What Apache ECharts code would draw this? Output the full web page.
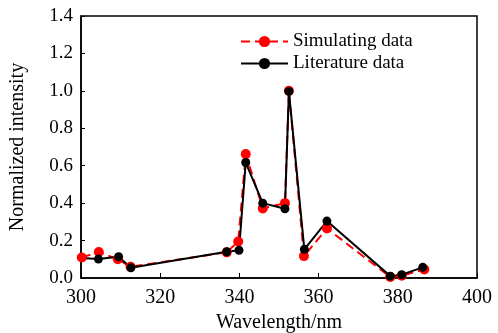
<!DOCTYPE html>
<html>
<head>
<meta charset="utf-8">
<script src="https://cdn.jsdelivr.net/npm/echarts@6/dist/echarts.min.js"></script>
<style>
  html, body { margin: 0; padding: 0; background: #fff; }
  #chart { width: 498px; height: 333px; }
</style>
</head>
<body>
<div id="chart"></div>
<script>
// wavelength (nm) and normalized intensity
const simWavelength = [300.2, 304.5, 309.3, 312.5, 336.8, 339.7, 341.6, 345.9, 351.5, 352.5, 356.3, 362.1, 378.1, 381.0, 386.7];
const simIntensity = [0.11, 0.139, 0.10, 0.06, 0.137, 0.195, 0.662, 0.372, 0.40, 1.0, 0.117, 0.265, 0.005, 0.012, 0.046];
const litWavelength = [300, 304.4, 309.5, 312.6, 336.8, 339.9, 341.6, 345.9, 351.5, 352.5, 356.4, 362.1, 378.1, 381.0, 386.3];
const litIntensity = [0.107, 0.101, 0.114, 0.055, 0.14, 0.148, 0.617, 0.40, 0.37, 0.997, 0.153, 0.304, 0.01, 0.018, 0.057];
const seriesNames = ["Simulating data", "Literature data"];

const font = "Liberation Serif";

const toPairs = (xs, ys) => xs.map((x, i) => [x, ys[i]]);

const litData = toPairs(litWavelength, litIntensity).map((p, i) =>
    i === 0 ? { value: p, symbol: "none" } : p
);

const chart = echarts.init(document.getElementById("chart"));
const option = {
    animation: false,
    backgroundColor: "#fff",
    textStyle: { fontFamily: font, color: "#000" },
    grid: {
        left: 81,
        top: 16,
        width: 396,
        height: 262,
        outerBoundsMode: "none",
        containLabel: false,
        show: true,
        borderColor: "#000",
        borderWidth: 1.5,
    },
    legend: {
        orient: "vertical",
        left: 235,
        top: 27,
        itemWidth: 47,
        itemHeight: 14,
        itemGap: 3,
        textStyle: { fontFamily: font, fontSize: 19, color: "#000" },
        data: seriesNames,
    },
    xAxis: {
        type: "value",
        min: 300,
        max: 400,
        interval: 20,
        name: "Wavelength/nm",
        nameLocation: "middle",
        nameGap: 34,
        nameTextStyle: { fontFamily: font, fontSize: 20, color: "#000" },
        axisLine: { lineStyle: { color: "#000", width: 1.5 } },
        axisTick: { inside: true, length: 5, lineStyle: { color: "#000" } },
        axisLabel: { fontFamily: font, fontSize: 20, color: "#000", margin: 10 },
        splitLine: { show: false },
    },
    yAxis: {
        type: "value",
        min: 0,
        max: 1.4,
        interval: 0.2,
        name: "Normalized intensity",
        nameLocation: "middle",
        nameGap: 53,
        nameTextStyle: { fontFamily: font, fontSize: 20, color: "#000" },
        axisLine: { lineStyle: { color: "#000", width: 1.5 } },
        axisTick: { inside: true, length: 4, lineStyle: { color: "#000" } },
        axisLabel: {
            fontFamily: font, fontSize: 19, color: "#000", margin: 8,
            formatter: (v) => v.toFixed(1),
        },
        splitLine: { show: false },
    },
    series: [
        {
            name: seriesNames[0],
            type: "line",
            data: toPairs(simWavelength, simIntensity),
            symbol: "circle",
            symbolSize: 10,
            itemStyle: { color: "#ff0000" },
            lineStyle: { color: "#ff0000", width: 2, type: [9, 5] },
        },
        {
            name: seriesNames[1],
            type: "line",
            data: litData,
            symbol: "circle",
            symbolSize: 9,
            itemStyle: { color: "#000" },
            lineStyle: { color: "#000", width: 2 },
        },
    ],
};
chart.setOption(option);
</script>
</body>
</html>
